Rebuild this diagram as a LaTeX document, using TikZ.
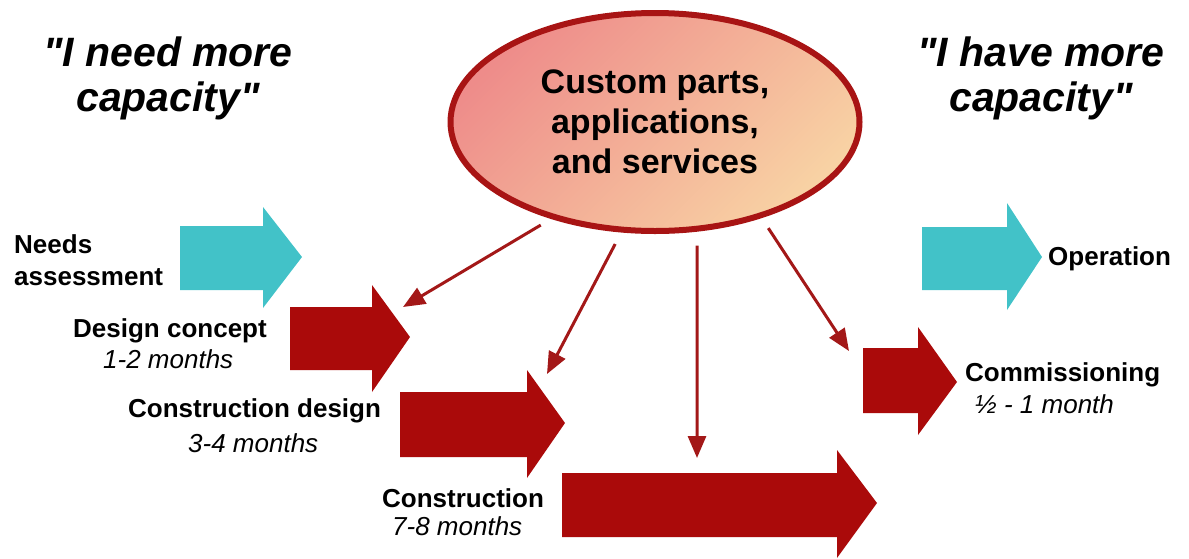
\documentclass[tikz,border=0pt]{standalone}
\usepackage{fontspec}
\setmainfont{Liberation Sans}[Ligatures=TeXOff]
\usetikzlibrary{shapes.geometric,arrows.meta}

\definecolor{blockcyan}{HTML}{42C2C8}
\definecolor{blockred}{HTML}{AA0A0A}
\definecolor{ellred}{HTML}{A81414}
\definecolor{ellpink}{HTML}{EE8C8A}
\definecolor{ellpeach}{HTML}{F8D2A4}
\definecolor{feedred}{HTML}{A31818}

\tikzset{
  bluearrow/.style={fill=blockcyan},
  redarrow/.style={fill=blockred},
  feed/.style={draw=feedred, line width=3pt, -{Triangle[length=22pt,width=18pt]}},
  quote/.style={font=\fontsize{41}{45}\selectfont\bfseries\itshape, align=center, inner sep=0pt},
  phase/.style={font=\fontsize{26}{32}\selectfont\bfseries, inner sep=0pt},
  span/.style={font=\fontsize{26}{32}\selectfont\itshape, inner sep=0pt}
}

\begin{document}
\begin{tikzpicture}[x=1pt, y=-1pt]
			\useasboundingbox (0,0) rectangle (1189,558);
			%%%%%%%%%%%%%%%%%%%%%%%%%%%%%%%%
			\node[quote, anchor=north] (need) at (168,37) {"I need more\\capacity"};
			\node[quote, anchor=north] (have) at (1041,37) {"I have more\\capacity"};
			%%%%%%%%%%%%%%%%%%%%%%%%%%%%%%%%
			\node[ellipse, draw=ellred, line width=6pt, minimum width=409pt, minimum height=218pt, inner sep=0pt,
				top color=ellpink, bottom color=ellpeach, shading angle=45,
				font=\fontsize{34}{40}\selectfont\bfseries, align=center] (ell) at (655,122)
				{Custom parts,\\applications,\\and services};
			%%%%%%%%%%%%%%%%%%%%%%%%%%%%%%%%
			\fill[bluearrow] (180,226)--(263,226)--(263,207)--(302,257)--(263,308)--(263,290)--(180,290)--cycle;
			\fill[redarrow] (290,307)--(372,307)--(372,285)--(410,337)--(372,392)--(372,370)--(290,370)--cycle;
			\fill[redarrow] (400,392)--(527,392)--(527,370)--(565,423)--(527,478)--(527,457)--(400,457)--cycle;
			\fill[redarrow] (562,473)--(837,473)--(837,450)--(877,503)--(837,558)--(837,537)--(562,537)--cycle;
			\fill[redarrow] (863,348)--(918,348)--(918,327)--(957,382)--(918,435)--(918,413)--(863,413)--cycle;
			\fill[bluearrow] (922,227)--(1007,227)--(1007,203)--(1042,257)--(1007,310)--(1007,290)--(922,290)--cycle;
			%%%%%%%%%%%%%%%%%%%%%%%%%%%%%%%%
			\node[phase, anchor=north west, align=left] (needs) at (14,234) {Needs\\assessment};
			\node[phase, anchor=base west] (concept) at (73,337) {Design concept};
			\node[span, anchor=base west] (concepttime) at (103,368) {1-2 months};
			\node[phase, anchor=base west] (cdesign) at (128,417) {Construction design};
			\node[span, anchor=base west] (cdesigntime) at (188,452) {3-4 months};
			\node[phase, anchor=base west] (constr) at (382,507) {Construction};
			\node[span, anchor=base west] (constrtime) at (392,535) {7-8 months};
			\node[phase, anchor=base west] (oper) at (1048,265) {Operation};
			\node[phase, anchor=base west] (comm) at (965,381) {Commissioning};
			\node[span, anchor=base west] (commtime) at (975,413) {½ - 1 month};
			%%%%%%%%%%%%%%%%%%%%%%%%%%%%%%%%
			\coordinate (t1) at (403,307);
			\coordinate (t2) at (547,374);
			\coordinate (t3) at (697,458);
			\coordinate (t4) at (849,351);
			\draw[feed, shorten <=12pt] (ell.-137)--(t1);
			\draw[feed, shorten <=13pt] (ell.-107)--(t2);
			\draw[feed, shorten <=14pt] (ell.-69)--(t3);
			\draw[feed, shorten <=12pt] (ell.-42)--(t4);
		\end{tikzpicture}
\end{document}
